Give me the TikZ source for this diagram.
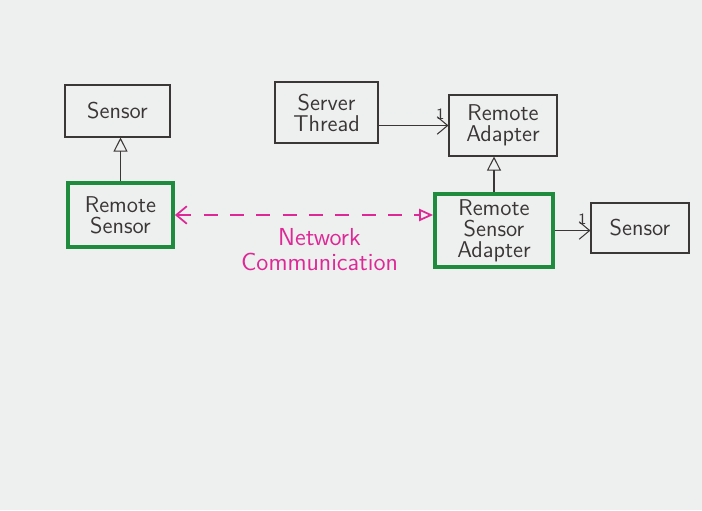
\documentclass[tikz,border=0pt]{standalone}
\usetikzlibrary{arrows.meta,positioning}
\definecolor{paper}{RGB}{238,240,240}
\definecolor{markgreen}{RGB}{30,140,60}
\definecolor{markpink}{RGB}{222,40,150}
\definecolor{pen}{RGB}{60,55,55}
\tikzset{
  box/.style={
    draw=pen,
    line width=0.6pt,
    align=center,
    text=pen,
    font=\sffamily\fontsize{13}{12}\selectfont,
    inner sep=2pt
  },
  box-green/.style={
    box,
    draw=markgreen,
    line width=2.2pt
  },
  inherit/.style={draw=pen, line width=0.6pt, -{Triangle[open,length=8pt,width=8pt]}},
  assoc/.style={draw=pen, line width=0.6pt, -{Straight Barb[length=6pt,width=10pt]}},
  network/.style={draw=markpink, line width=1pt, dash pattern=on 8pt off 7pt,
    {Straight Barb[length=6pt,width=10pt]}-{Triangle[open,length=8pt,width=7pt]}},
  mult/.style={font=\sffamily\small, text=pen, inner sep=1pt}
}

\begin{document}
\begin{tikzpicture}[x=0.02cm,y=-0.02cm]
  % paper
  \fill[paper] (0,0) rectangle (702,510);
  \useasboundingbox (0,0) rectangle (702,510);

  % 1. Left side (sensor and its remote stand-in)
  \node[box, minimum width=2.1cm, minimum height=1.04cm] (sensorA) at (117.5,111) {Sensor};
  \node[box-green, minimum width=2.1cm, minimum height=1.28cm] (remoteSensor) at (120.5,215) {Remote\\Sensor};

  % 2. Right side (server thread, adapters, sensor)
  \node[box, minimum width=2.06cm, minimum height=1.22cm] (serverThread) at (326.5,112.5) {Server\\Thread};
  \node[box, minimum width=2.16cm, minimum height=1.22cm] (remoteAdapter) at (503,125.5) {Remote\\Adapter};
  \node[box-green, minimum width=2.36cm, minimum height=1.46cm] (rsAdapter) at (494,230.5) {Remote\\Sensor\\Adapter};
  \node[box, minimum width=1.96cm, minimum height=1.0cm] (sensorB) at (640,228) {Sensor};

  % 3. Connectors
  \draw[inherit] (remoteSensor.north) -- (remoteSensor.north |- sensorA.south);
  \draw[inherit] (rsAdapter.north) -- (rsAdapter.north |- remoteAdapter.south);
  \draw[assoc] ([yshift=-0.26cm]serverThread.east) -- ([yshift=-0.26cm]serverThread.east -| remoteAdapter.west)
    node[mult, pos=1, above left=2pt and 1pt] (multA) {1};
  \draw[assoc] (rsAdapter.east) -- (rsAdapter.east -| sensorB.west)
    node[mult, pos=1, above left=2pt and 1pt] (multB) {1};

  % 4. Network link (dashed, pink)
  \draw[network] (remoteSensor.east) -- (remoteSensor.east -| rsAdapter.west)
    node[pos=0.56, below=4pt, text=markpink, font=\sffamily\fontsize{14}{14}\selectfont, align=center] (netLabel) {Network\\Communication};

\end{tikzpicture}
\end{document}
